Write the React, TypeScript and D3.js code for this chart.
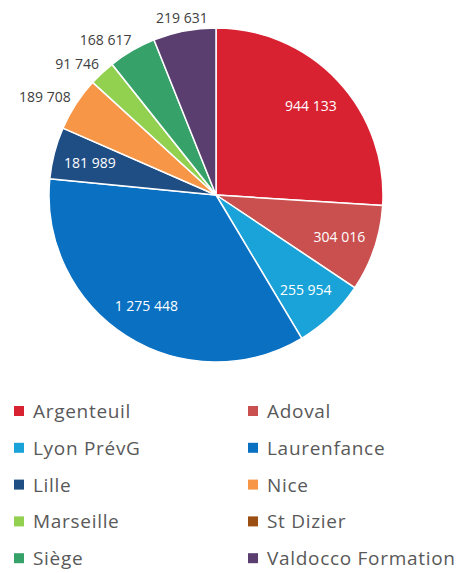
import React from "react";
import { arc, pie, PieArcDatum } from "d3";

const sites = [
  "Argenteuil",
  "Adoval",
  "Lyon PrévG",
  "Laurenfance",
  "Lille",
  "Nice",
  "Marseille",
  "St Dizier",
  "Siège",
  "Valdocco Formation",
];
const amounts = [944133, 304016, 255954, 1275448, 181989, 189708, 91746, 0, 168617, 219631];
const colors = [
  "#d92231",
  "#c9504f",
  "#1aa3d8",
  "#0a70c2",
  "#1f4e85",
  "#f79646",
  "#92d050",
  "#9c4f12",
  "#36a26a",
  "#5a3e70",
];
// étiquettes placées hors de la part (petites parts en haut à gauche)
const outside = ["Nice", "Marseille", "Siège", "Valdocco Formation"];

interface Slice {
  name: string;
  value: number;
  color: string;
}

const fmt = (v: number) => v.toLocaleString("fr-FR").replace(/[\u202f\u00a0]/g, " ");

export default function App() {
  const width = 466;
  const height = 573;
  const cx = 216;
  const cy = 195;
  const r = 167;
  const font = "'Open Sans', sans-serif";

  const data: Slice[] = sites.map((s, i) => ({ name: s, value: amounts[i], color: colors[i] }));

  const arcs = pie<Slice>()
    .sort(null)
    .value((d) => d.value)(data);

  const slicePath = arc<PieArcDatum<Slice>>().innerRadius(0).outerRadius(r);
  const inLabel = arc<PieArcDatum<Slice>>().innerRadius(r * 0.78).outerRadius(r * 0.78);
  const outLabel = arc<PieArcDatum<Slice>>().innerRadius(r * 1.08).outerRadius(r * 1.08);

  const legendTop = 411;
  const rowGap = 36.8;

  return (
    <svg width={width} height={height} style={{ position: "absolute", left: 0, top: 0, background: "#fff" }}>
      <g transform={`translate(${cx},${cy})`}>
        {arcs.map((a, i) => (
          <path key={i} d={slicePath(a) ?? ""} fill={a.data.color} stroke="#fff" strokeWidth={1.5} />
        ))}
        {arcs
          .filter((a) => a.data.value > 0)
          .map((a, i) => {
            const isOut = outside.includes(a.data.name);
            const [x, y] = isOut ? outLabel.centroid(a) : inLabel.centroid(a);
            // à gauche : texte aligné à droite contre la part, sauf près du sommet
            const nearTop = Math.abs(x) < 45;
            const anchor = isOut && !nearTop ? "end" : "middle";
            return (
              <text
                key={i}
                x={isOut && !nearTop ? x + 6 : x}
                y={y}
                textAnchor={anchor}
                dominantBaseline="central"
                fill={isOut ? "#404040" : "#fff"}
                style={{ fontFamily: font, fontSize: 14 }}
              >
                {fmt(a.data.value)}
              </text>
            );
          })}
      </g>
      {/* Légende */}
      {data.map((d, i) => {
        const col = i % 2;
        const row = Math.floor(i / 2);
        const x = col === 0 ? 14 : 248;
        const y = legendTop + row * rowGap;
        return (
          <g key={i} transform={`translate(${x},${y})`}>
            <rect x={0} y={-5} width={10} height={10} fill={d.color} />
            <text
              x={19}
              y={0}
              dominantBaseline="central"
              fill="#595959"
              style={{ fontFamily: font, fontSize: 19, letterSpacing: 0.7 }}
            >
              {d.name}
            </text>
          </g>
        );
      })}
    </svg>
  );
}
